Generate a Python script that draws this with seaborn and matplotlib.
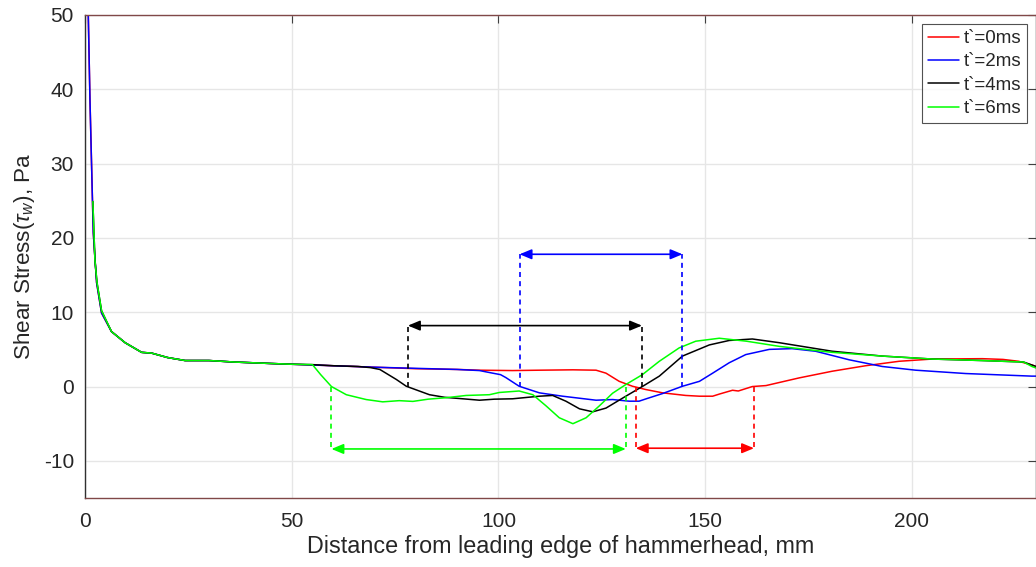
import numpy as np
import pandas as pd
import matplotlib
matplotlib.use("Agg")
import matplotlib.pyplot as plt
import seaborn as sns

# ---------------- data ----------------
head_x = [0.5, 0.8, 1.2, 1.6, 2.0, 2.8, 4.0, 6.4, 9.7, 13.7, 16.1, 20, 24.2, 30, 36, 45, 50, 55]
head_y = [55, 49.8, 38.6, 29.6, 20.7, 14, 9.9, 7.4, 5.9, 4.6, 4.5, 3.9, 3.5, 3.5, 3.3, 3.1, 3.0, 2.9]

late_head_x = [1.9, 2.4, 2.9, 4.0, 6.4, 9.7, 13.7, 16.1, 20, 24.2, 30, 36, 45, 50, 55]
late_head_y = [24.9, 17, 14, 10.2, 7.4, 5.9, 4.6, 4.5, 3.9, 3.5, 3.5, 3.3, 3.1, 3.0, 2.95]

red_x = [60, 70, 80, 90, 95.4, 103.4, 110, 118, 123.6, 126, 129.2, 132.4, 135.6, 139.7, 145.3, 148.6,
         151.8, 153.5, 156.6, 158, 161.4, 164.7, 172.7, 180.7, 188.8, 196.9, 204.9, 217, 222, 225.8, 229, 230]
red_y = [2.8, 2.6, 2.4, 2.3, 2.2, 2.15, 2.2, 2.25, 2.2, 1.8, 0.7, 0.04, -0.4, -0.85, -1.2, -1.3,
         -1.3, -1.0, -0.5, -0.6, 0.0, 0.13, 1.16, 2.06, 2.8, 3.4, 3.7, 3.75, 3.65, 3.4, 2.9, 2.7]

blue_x = [60, 70, 80, 90, 95.4, 98.6, 100.5, 101.8, 105, 109.9, 115.5, 120, 123.6, 127.6, 131.6, 134,
          136, 139.7, 144.5, 148.6, 151.8, 155.8, 159.8, 165.5, 171, 176.7, 184.8, 192.8, 200.9, 213, 229, 230]
blue_y = [2.8, 2.6, 2.45, 2.3, 2.15, 1.8, 1.6, 1.2, 0.04, -0.85, -1.3, -1.6, -1.84, -1.75, -1.97, -1.97,
          -1.6, -0.94, 0.04, 0.7, 1.8, 3.2, 4.3, 5.0, 5.1, 4.75, 3.6, 2.7, 2.2, 1.75, 1.4, 1.4]

black_x = [60, 66, 69, 71.3, 75.3, 77.7, 83.3, 87, 91.4, 95.4, 99, 103.4, 109.9, 113.1, 116.3, 119.6,
           122.8, 126, 130.8, 134.9, 138.9, 144.5, 151, 155.8, 161.4, 167.9, 180.7, 192.8, 204.9, 217, 227, 229, 230]
black_y = [2.8, 2.7, 2.55, 2.3, 0.95, 0.04, -1.1, -1.45, -1.65, -1.84, -1.7, -1.65, -1.3, -1.2, -1.97, -3.0,
           -3.4, -2.9, -1.3, 0.04, 1.4, 4.1, 5.6, 6.2, 6.4, 5.9, 4.75, 4.1, 3.7, 3.5, 3.3, 2.9, 2.7]

green_x = [57, 59.6, 63.2, 68, 72, 76, 79.3, 83, 87.4, 92.2, 97.8, 100.2, 105, 108.3, 111.5, 114.7, 118,
           121.2, 124.4, 127.6, 130.8, 134.8, 138.9, 143.7, 147.7, 153.4, 160, 168, 180.7, 192.8, 204.9,
           217, 227, 229, 230]
green_y = [1.6, 0.0, -1.1, -1.75, -2.06, -1.9, -2.0, -1.7, -1.5, -1.2, -1.1, -0.8, -0.6, -1.1, -2.6, -4.2, -5.0,
           -4.2, -2.6, -0.9, 0.27, 1.6, 3.4, 5.2, 6.1, 6.5, 6.1, 5.4, 4.6, 4.1, 3.7, 3.5, 3.3, 2.7, 2.5]

series_labels = ["t`=0ms", "t`=2ms", "t`=4ms", "t`=6ms"]
series_colors = ["#ff0000", "#0000ff", "#000000", "#00ff00"]

# annotation spans: (x_start, x_end, y_level)
span_red = (133.2, 161.8, -8.3)
span_blue = (105.1, 144.5, 17.8)
span_black = (78.1, 134.7, 8.2)
span_green = (59.6, 130.8, -8.4)

x_ticks = [0, 50, 100, 150, 200]
y_ticks = [-10, 0, 10, 20, 30, 40, 50]

# ---------------- table ----------------
frames = []
for lab, xs, ys in [
    (series_labels[0], head_x + red_x, head_y + red_y),
    (series_labels[1], head_x + blue_x, head_y + blue_y),
    (series_labels[2], late_head_x + black_x, late_head_y + black_y),
    (series_labels[3], late_head_x + green_x, late_head_y + green_y),
]:
    frames.append(pd.DataFrame({"x": xs, "y": ys, "series": lab}))
df = pd.concat(frames, ignore_index=True)

# ---------------- style ----------------
sns.set_theme(style="white")
plt.rcParams["font.family"] = ["Liberation Sans", "DejaVu Sans"]
plt.rcParams["mathtext.fontset"] = "custom"
plt.rcParams["mathtext.rm"] = "Liberation Sans"
plt.rcParams["mathtext.it"] = "Liberation Sans:italic"
plt.rcParams["mathtext.default"] = "it"
plt.rcParams["axes.unicode_minus"] = False

fig = plt.figure(figsize=(10.36, 5.67), dpi=100)
ax = fig.add_axes([85 / 1036, 1 - 498 / 567, 1 - 85 / 1036, (498 - 15) / 567])

sns.lineplot(data=df, x="x", y="y", hue="series", palette=dict(zip(series_labels, series_colors)),
             estimator=None, sort=False, linewidth=1.1, ax=ax, legend=True)

ax.set_xlim(0, 230)
ax.set_ylim(-15, 50)
ax.set_xticks(x_ticks)
ax.set_yticks(y_ticks)
ax.grid(True, color="#e6e6e6", linewidth=1.0)
ax.set_axisbelow(True)
ax.tick_params(direction="in", length=6, width=0.8, color="#404040", top=True, right=True,
               labelsize=15, labelcolor="#262626", pad=8)
ax.tick_params(axis="x", pad=10)
for s in ["left", "right"]:
    ax.spines[s].set_color("#303030")
for s in ["top", "bottom"]:
    ax.spines[s].set_color("#804848")
for s in ax.spines.values():
    s.set_linewidth(1.0)

ax.set_xlabel("Distance from leading edge of hammerhead, mm", fontsize=16.8, color="#262626", labelpad=3)
ax.set_ylabel(r"Shear Stress($\tau_w$), Pa", fontsize=16.2, color="#262626", labelpad=5)

# annotations
for (x0, x1, yl), col in [(span_red, series_colors[0]), (span_blue, series_colors[1]),
                           (span_black, series_colors[2]), (span_green, series_colors[3])]:
    ax.plot([x0, x0], [0, yl], ls=(0, (3, 2.5)), color=col, lw=1.2)
    ax.plot([x1, x1], [0, yl], ls=(0, (3, 2.5)), color=col, lw=1.2)
    ax.annotate("", xy=(x1, yl), xytext=(x0, yl),
                arrowprops=dict(arrowstyle="<|-|>,head_length=0.6,head_width=0.25", color=col, lw=1.2,
                                shrinkA=0, shrinkB=0))

leg = ax.legend(loc="upper right", fontsize=13.5, frameon=True, fancybox=False, edgecolor="#262626",
                handlelength=1.65, handletextpad=0.25, borderpad=0.3, labelspacing=0.33,
                borderaxespad=0.5)
leg.get_frame().set_linewidth(0.8)
for h in leg.get_lines():
    h.set_linewidth(1.1)

fig.savefig("out.png", dpi=100)
